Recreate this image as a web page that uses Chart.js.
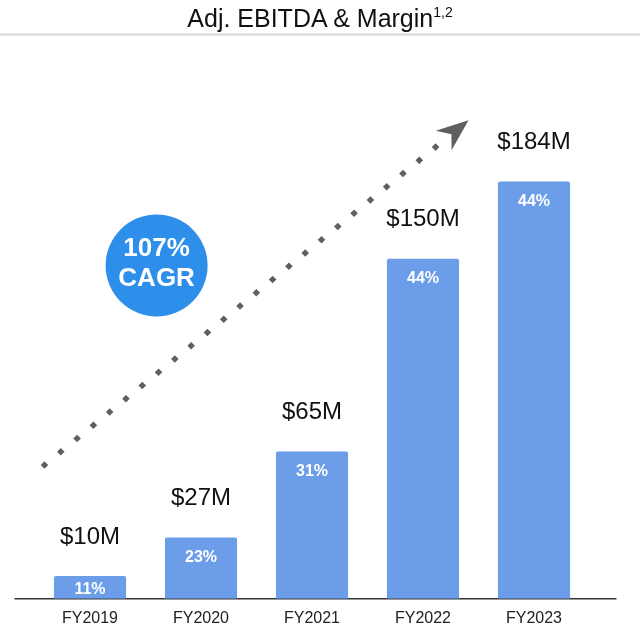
<!DOCTYPE html>
<html>
<head>
<meta charset="utf-8">
<script src="https://cdn.jsdelivr.net/npm/chart.js@4/dist/chart.umd.min.js"></script>
<style>
  body { margin: 0; background: #fff; }
  #wrap { position: relative; width: 640px; height: 631px; font-family: "Liberation Sans", Arial, sans-serif; }
  #title { position: absolute; top: 1px; left: 0; width: 640px; text-align: center; font-size: 25px; line-height: 34px; color: #111; }
  #title span { font-size: 14px; position: relative; top: -10px; }
  #rule { position: absolute; top: 33px; left: 0; width: 640px; height: 3px; background: #e2e2e2; }
  #chart { position: absolute; top: 0; left: 0; }
</style>
</head>
<body>
<div id="wrap">
  <canvas id="chart" width="640" height="631"></canvas>
  <div id="title">Adj. EBITDA &amp; Margin<span>1,2</span></div>
  <div id="rule"></div>
</div>
<script>
const years = ["FY2019", "FY2020", "FY2021", "FY2022", "FY2023"];
const ebitda = [10, 27, 65, 150, 184];          // $M
const margins = [11, 23, 31, 44, 44];           // %
const cagrText = ["107%", "CAGR"];
// trend arrow, in axis units (category index, $M)
const trendFrom = [-0.41, 59];
const trendTo = [3.41, 211];
const badgeAt = [0.6, 147];

const FONT = '"Liberation Sans", Arial, sans-serif';

const overlay = {
  id: "overlay",
  beforeDatasetsDraw(chart) {
    const { ctx, chartArea, scales } = chart;
    const x = scales.x, y = scales.y;

    // baseline
    ctx.save();
    ctx.strokeStyle = "#333";
    ctx.lineWidth = 1.5;
    ctx.beginPath();
    ctx.moveTo(chartArea.left - 20, chartArea.bottom);
    ctx.lineTo(chartArea.right + 27, chartArea.bottom);
    ctx.stroke();

    // dotted trend arrow
    const x0 = x.getPixelForValue(trendFrom[0]), y0 = y.getPixelForValue(trendFrom[1]);
    const x1 = x.getPixelForValue(trendTo[0]), y1 = y.getPixelForValue(trendTo[1]);
    const len = Math.hypot(x1 - x0, y1 - y0);
    const ux = (x1 - x0) / len, uy = (y1 - y0) / len;
    const nx = -uy, ny = ux;
    ctx.fillStyle = "#5f5f5f";
    for (let d = 0; d < len - 40; d += 21) {
      const px = x0 + ux * d, py = y0 + uy * d;
      ctx.beginPath();
      ctx.moveTo(px - 3.8, py);
      ctx.lineTo(px, py - 3.8);
      ctx.lineTo(px + 3.8, py);
      ctx.lineTo(px, py + 3.8);
      ctx.closePath();
      ctx.fill();
    }
    const pt = (a, b) => [x1 + ux * a + nx * b, y1 + uy * a + ny * b];
    ctx.beginPath();
    ctx.moveTo(x1, y1);
    ctx.lineTo(...pt(-32, -12.5));
    ctx.lineTo(...pt(-22, 0));
    ctx.lineTo(...pt(-32, 12.5));
    ctx.closePath();
    ctx.fill();

    // CAGR badge
    const cx = x.getPixelForValue(badgeAt[0]), cy = y.getPixelForValue(badgeAt[1]);
    ctx.fillStyle = "#2d8fea";
    ctx.beginPath();
    ctx.arc(cx, cy, 51, 0, Math.PI * 2);
    ctx.fill();
    ctx.fillStyle = "#fff";
    ctx.font = "bold 26px " + FONT;
    ctx.textAlign = "center";
    ctx.textBaseline = "middle";
    ctx.fillText(cagrText[0], cx, cy - 17);
    ctx.fillText(cagrText[1], cx, cy + 13);
    ctx.restore();
  },
  afterDatasetsDraw(chart) {
    const { ctx, chartArea } = chart;
    const bars = chart.getDatasetMeta(0).data;
    ctx.save();
    ctx.textAlign = "center";
    ctx.textBaseline = "middle";
    bars.forEach((bar, i) => {
      ctx.fillStyle = "#111";
      ctx.font = "24px " + FONT;
      ctx.fillText("$" + ebitda[i] + "M", bar.x, bar.y - 39);
      ctx.fillStyle = "#fff";
      ctx.font = "bold 16px " + FONT;
      ctx.fillText(margins[i] + "%", bar.x, Math.min(bar.y + 20, chartArea.bottom - 9));
    });
    ctx.restore();
  }
};

new Chart(document.getElementById("chart"), {
  type: "bar",
  data: {
    labels: years,
    datasets: [
      {
        label: "Adj. EBITDA",
        data: ebitda,
        backgroundColor: "#6c9de8",
        borderRadius: 2,
        borderSkipped: "bottom",
        barPercentage: 0.65,
        categoryPercentage: 1,
      },
    ],
  },
  options: {
    responsive: false,
    animation: false,
    layout: { padding: { left: 34.5, right: 50.5, top: 50, bottom: -7 } },
    plugins: {
      legend: { display: false },
      tooltip: { enabled: false },
    },
    scales: {
      x: {
        grid: { display: false, drawTicks: false },
        border: { display: false },
        ticks: { color: "#222", font: { family: FONT, size: 16 }, padding: 10 },
      },
      y: { display: false, min: 0, max: 242 },
    },
  },
  plugins: [overlay],
});
</script>
</body>
</html>
